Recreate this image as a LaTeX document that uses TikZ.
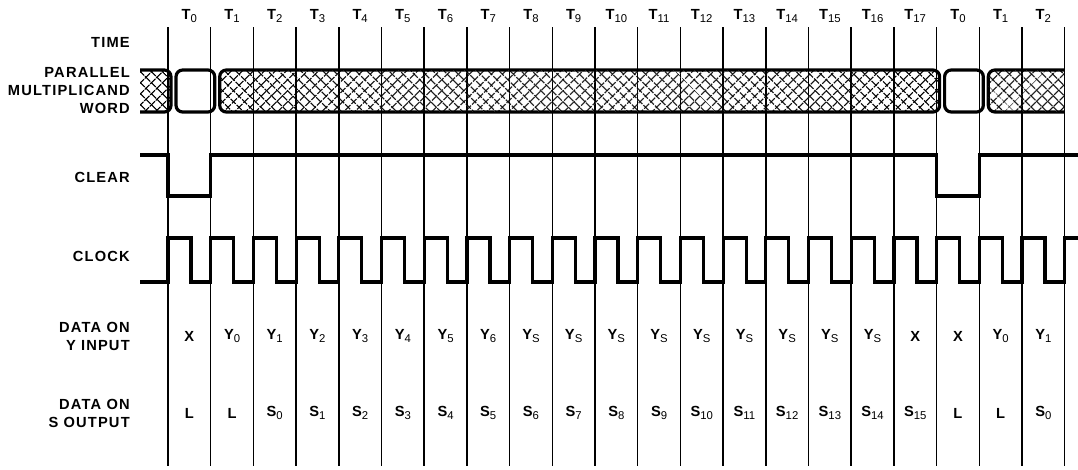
\documentclass[tikz,border=0pt]{standalone}
\usepackage{fontspec}
\setmainfont{Liberation Sans}
\newfontfamily\lblfont{Liberation Sans}[LetterSpace=8]
\usetikzlibrary{patterns.meta}
\newcommand{\tsub}[2]{\textbf{#1}\raisebox{-0.35ex}{\fontsize{8.5}{8.5}\selectfont\mdseries #2}}

\begin{document}
\begin{tikzpicture}[x=0.75pt,y=-0.75pt]
	\tikzset{
		L/.style={font=\fontsize{11}{13.5}\selectfont\lblfont\bfseries,align=right,anchor=east,inner sep=0pt},
		C/.style={font=\fontsize{11}{13.5}\selectfont\bfseries,inner sep=0pt},
		G/.style={line width=1.1pt},
		W/.style={line width=2.4pt,line join=miter},
		B/.style={line width=2.4pt,rounded corners=5pt},
		H/.style={pattern={Lines[angle=45,distance=6.4pt,line width=1.1pt]},
			postaction={pattern={Lines[angle=-45,distance=6.4pt,line width=1.1pt]}}},
	}
	\useasboundingbox (0,0) rectangle (1078,469);
	
	% signal names
	\node[L] (time) at (130,42) {TIME};
	\node[L] (word) at (130,91) {PARALLEL\\MULTIPLICAND\\WORD};
	\node[L] (clear) at (130,177) {CLEAR};
	\node[L] (clock) at (130,256) {CLOCK};
	\node[L] (yin) at (130,336) {DATA ON\\Y INPUT};
	\node[L] (sout) at (130,413) {DATA ON\\S OUTPUT};
	
	% time grid
	\foreach \i in {0,...,21}
		\draw[G] ({168+42.7*\i},27) -- ({168+42.7*\i},466);
	
	\foreach \t [count=\i from 0] in {0,1,2,3,4,5,6,7,8,9,10,11,12,13,14,15,16,17,0,1,2}
		\node[C] (t\i) at ({189.35+42.7*\i},16) {\tsub{T}{\t}};
	
	% multiplicand bus
	\draw[B,H] (140,70) -- (171,70) -- (171,112) -- (140,112);
	\draw[B] (176,70) rectangle (214.7,112);
	\draw[B,H] (219.7,70) -- (939.6,70) -- (939.6,112) -- (219.7,112) -- cycle;
	\draw[B] (944.6,70) rectangle (983.3,112);
	\draw[B,H] (1064.7,70) -- (988.3,70) -- (988.3,112) -- (1064.7,112);
	
	% clear
	\draw[W] (140,155) -- (168,155) -- (168,196) -- (210.7,196) -- (210.7,155)
		-- (936.6,155) -- (936.6,196) -- (979.3,196) -- (979.3,155) -- (1078,155);
	
	% clock
	\draw[W] (140,282) \foreach \i in {0,...,20}{
		-- ({168+42.7*\i},282) -- ++(0,-44) -- ++(23,0) -- ++(0,44)}
		-- (1064.7,282) -- (1064.7,238) -- (1078,238);
	
	% data on y input
	\foreach \v [count=\i from 0] in {{\textbf{X}},{\tsub{Y}{0}},{\tsub{Y}{1}},{\tsub{Y}{2}},
		{\tsub{Y}{3}},{\tsub{Y}{4}},{\tsub{Y}{5}},{\tsub{Y}{6}},{\tsub{Y}{S}},{\tsub{Y}{S}},
		{\tsub{Y}{S}},{\tsub{Y}{S}},{\tsub{Y}{S}},{\tsub{Y}{S}},{\tsub{Y}{S}},{\tsub{Y}{S}},
		{\tsub{Y}{S}},{\textbf{X}},{\textbf{X}},{\tsub{Y}{0}},{\tsub{Y}{1}}}
		\node[C] (y\i) at ({189.35+42.7*\i},336) {\v};
	
	% data on s output
	\foreach \v [count=\i from 0] in {{\textbf{L}},{\textbf{L}},{\tsub{S}{0}},{\tsub{S}{1}},
		{\tsub{S}{2}},{\tsub{S}{3}},{\tsub{S}{4}},{\tsub{S}{5}},{\tsub{S}{6}},{\tsub{S}{7}},
		{\tsub{S}{8}},{\tsub{S}{9}},{\tsub{S}{10}},{\tsub{S}{11}},{\tsub{S}{12}},{\tsub{S}{13}},
		{\tsub{S}{14}},{\tsub{S}{15}},{\textbf{L}},{\textbf{L}},{\tsub{S}{0}}}
		\node[C] (s\i) at ({189.35+42.7*\i},413) {\v};
\end{tikzpicture}
\end{document}
